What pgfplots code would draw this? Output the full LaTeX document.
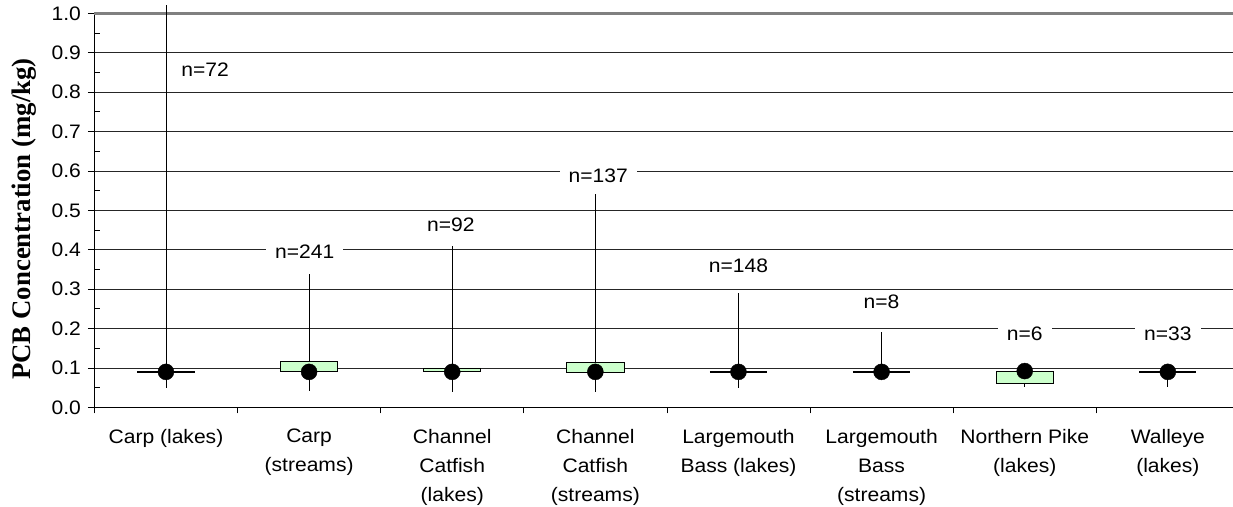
\documentclass[border=0pt]{standalone}
\usepackage{pgfplots}
\pgfplotsset{compat=1.18}
\usepackage{fontspec}
\setmainfont{Liberation Sans}[FakeStretch=1.08]
\newfontfamily\serifb{Liberation Serif}
\definecolor{boxgreen}{RGB}{204,255,204}
\begin{document}
\begin{tikzpicture}
\begin{axis}[name=ax, scale only axis, width=1145pt, height=394pt,
  xmin=-0.5, xmax=7.5, ymin=0, ymax=1,
  axis x line*=bottom, axis y line*=left,
  axis line style={black, line width=1.3pt},
  ytick={0,0.1,0.2,0.3,0.4,0.5,0.6,0.7,0.8,0.9,1.0},
  minor ytick={0.05,0.15,0.25,0.35,0.45,0.55,0.65,0.75,0.85,0.95},
  xtick={0,1,2,3,4,5,6,7},
  xticklabels={Carp (lakes), Carp\\(streams), Channel\\Catfish\\(lakes), Channel\\Catfish\\(streams), Largemouth\\Bass (lakes), Largemouth\\Bass\\(streams), Northern Pike\\(lakes), Walleye\\(lakes)},
  minor xtick={-0.5,0.5,1.5,2.5,3.5,4.5,5.5,6.5,7.5},
  tick align=outside,
  major tick length=6.5pt, minor tick length=6pt,
  tick style={black, line width=0.8pt},
  major x tick style={draw=none},
  minor y tick style={xshift=6pt},
  ymajorgrids, grid style={black!85, line width=0.8pt},
  /pgf/number format/assume math mode=true,
  yticklabel style={/pgf/number format/.cd, fixed, fixed zerofill, precision=1, /tikz/.cd, font=\fontsize{19.5}{21}\selectfont, xshift=-3.5pt},
  xticklabel style={align=center, font=\fontsize{19.5}{28.8}\selectfont, yshift=-12pt},
  ylabel={PCB Concentration (mg/kg)},
  ylabel style={font=\serifb\bfseries\fontsize{26.8}{28}\selectfont, at={(rel axis cs:0,0.478)}, anchor=center, yshift=70pt},
  clip=false,
]
\draw[gray, line width=2.5pt] (rel axis cs:0,1) -- (rel axis cs:1,1);
% whiskers (min to max)
\addplot[black, line width=0.8pt] coordinates {(0,0.050) (0,1.021)};
\addplot[black, line width=0.8pt] coordinates {(1,0.042) (1,0.338)};
\addplot[black, line width=0.8pt] coordinates {(2,0.040) (2,0.409)};
\addplot[black, line width=0.8pt] coordinates {(3,0.040) (3,0.541)};
\addplot[black, line width=0.8pt] coordinates {(4,0.050) (4,0.289)};
\addplot[black, line width=0.8pt] coordinates {(5,0.090) (5,0.192)};
\addplot[black, line width=0.8pt] coordinates {(6,0.052) (6,0.090)};
\addplot[black, line width=0.8pt] coordinates {(7,0.052) (7,0.090)};
% boxes (lower to upper quartile)
\addplot[draw=black, line width=0.8pt, fill=boxgreen] coordinates {(0.8,0.090) (1.2,0.090) (1.2,0.116) (0.8,0.116) (0.8,0.090)};
\addplot[draw=black, line width=0.8pt, fill=boxgreen] coordinates {(1.8,0.090) (2.2,0.090) (2.2,0.100) (1.8,0.100) (1.8,0.090)};
\addplot[draw=black, line width=0.8pt, fill=boxgreen] coordinates {(2.8,0.088) (3.2,0.088) (3.2,0.114) (2.8,0.114) (2.8,0.088)};
\addplot[draw=black, line width=0.8pt, fill=boxgreen] coordinates {(5.8,0.062) (6.2,0.062) (6.2,0.090) (5.8,0.090) (5.8,0.062)};
% degenerate boxes (quartiles equal)
\addplot[black, line width=1.8pt] coordinates {(-0.2,0.090) (0.2,0.090)};
\addplot[black, line width=1.8pt] coordinates {(3.8,0.090) (4.2,0.090)};
\addplot[black, line width=1.8pt] coordinates {(4.8,0.090) (5.2,0.090)};
\addplot[black, line width=1.8pt] coordinates {(6.8,0.090) (7.2,0.090)};
% medians
\addplot[only marks, mark=*, mark size=8pt, black] coordinates {(0,0.090) (1,0.090) (2,0.090) (3,0.090) (4,0.090) (5,0.090) (6,0.092) (7,0.090)};
% sample sizes
\tikzset{nlab/.style={fill=white, inner xsep=9pt, inner ysep=3pt, font=\fontsize{19.5}{21}\selectfont}}
\node[nlab] at (axis cs:0.273,0.858) {n=72};
\node[nlab] at (axis cs:0.97,0.395) {n=241};
\node[nlab] at (axis cs:1.99,0.463) {n=92};
\node[nlab] at (axis cs:3.02,0.587) {n=137};
\node[nlab] at (axis cs:4.0,0.359) {n=148};
\node[nlab] at (axis cs:5.0,0.267) {n=8};
\node[nlab] at (axis cs:6.0,0.186) {n=6};
\node[nlab] at (axis cs:7.0,0.186) {n=33};
\end{axis}
\pgfresetboundingbox
\path ([shift={(-94.4pt,-98.7pt)}]ax.south west) rectangle ([shift={(-6.4pt,13.3pt)}]ax.north east);
\end{tikzpicture}
\end{document}
